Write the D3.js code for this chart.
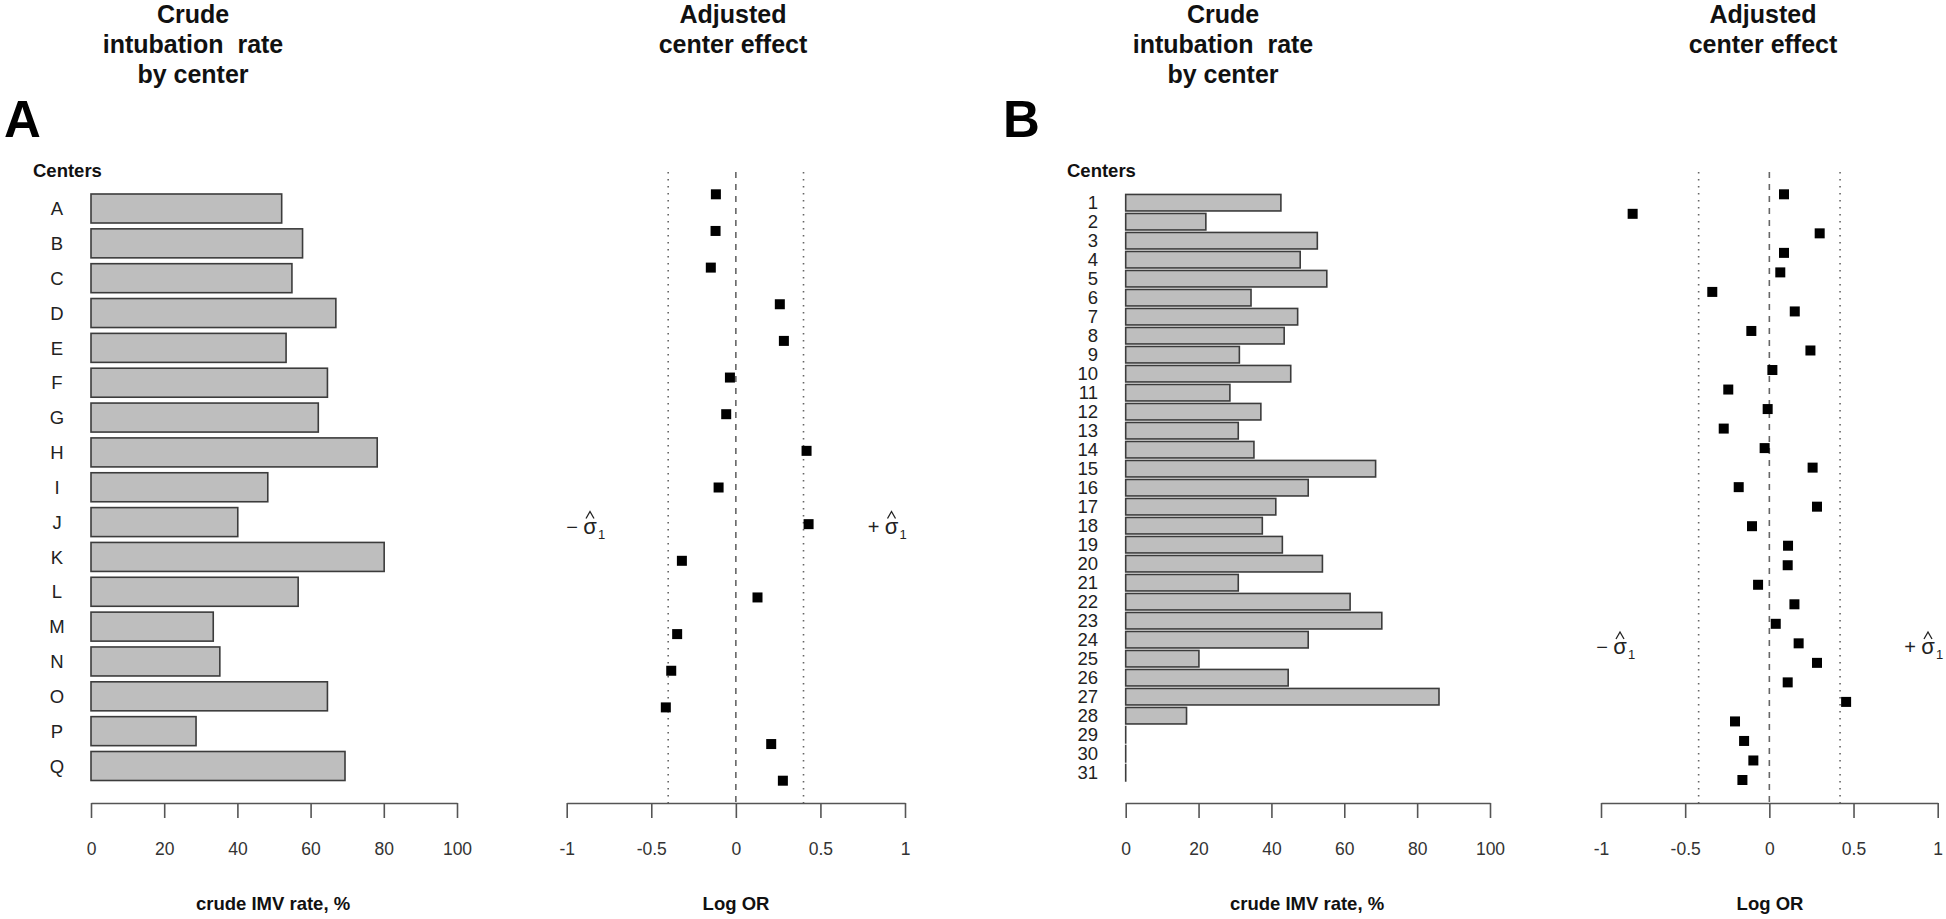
<!DOCTYPE html>
<html>
<head>
<meta charset="utf-8">
<script src="https://cdn.jsdelivr.net/npm/d3@7"></script>
<style>
  html, body { margin: 0; padding: 0; background: #fff; }
  svg { display: block; font-family: "Liberation Sans", Arial, sans-serif; }
</style>
</head>
<body>
<svg id="chart" width="1946" height="919"></svg>
<script>
// ---------------- DATA ----------------
const centersA = ["A","B","C","D","E","F","G","H","I","J","K","L","M","N","O","P","Q"];
const crudeA = [52.1, 57.8, 54.9, 66.9, 53.3, 64.6, 62.1, 78.2, 48.3, 40.1, 80.1, 56.6, 33.4, 35.2, 64.6, 28.7, 69.4];
const logOrA = [-0.118, -0.120, -0.148, 0.260, 0.284, -0.035, -0.057, 0.418, -0.102, 0.430, -0.319, 0.128, -0.347, -0.382, -0.414, 0.209, 0.278];
const sigmaA = 0.40;

const centersB = ["1","2","3","4","5","6","7","8","9","10","11","12","13","14","15","16","17","18","19","20","21","22","23","24","25","26","27","28","29","30","31"];
const crudeB = [42.6, 22.0, 52.6, 47.9, 55.2, 34.4, 47.2, 43.5, 31.2, 45.3, 28.6, 37.1, 30.9, 35.2, 68.6, 50.1, 41.2, 37.5, 43.0, 54.0, 30.9, 61.6, 70.3, 50.1, 20.1, 44.6, 86.0, 16.7, 0, 0, 0];
const logOrB = [0.087, -0.812, 0.299, 0.087, 0.065, -0.339, 0.151, -0.107, 0.244, 0.018, -0.244, -0.010, -0.271, -0.028, 0.257, -0.182, 0.283, -0.103, 0.111, 0.109, -0.067, 0.149, 0.038, 0.174, 0.283, 0.109, 0.456, -0.204, -0.150, -0.095, -0.160];
const sigmaB = 0.42;

const rateTicks = [0, 20, 40, 60, 80, 100];
const rateTickLabels = ["0", "20", "40", "60", "80", "100"];
const logTicks = [-1, -0.5, 0, 0.5, 1];
const logTickLabels = ["-1", "-0.5", "0", "0.5", "1"];

const crudeTitle = ["Crude", "intubation  rate", "by center"];
const adjTitle = ["Adjusted", "center effect"];
const crudeAxisTitle = "crude IMV rate, %";
const logAxisTitle = "Log OR";
const centersLabel = "Centers";

// ---------------- LAYOUT ----------------
const svg = d3.select("#chart");
const axisY = 803;
const lineTop = 172;

const panels = [
  {
    letter: "A", letterX: 4, cats: centersA, crude: crudeA, logor: logOrA, sigma: sigmaA,
    barX: [91, 457], barY: [208.5, 766], barH: 29, labelMode: "middle", labelX: 57,
    ptX: [566.7, 905], ptY: [194.3, 780.7],
    crudeTitleX: 193, adjTitleX: 733, centersX: 33,
    crudeAxisX: 273, logAxisX: 736,
    sigY: 527.5, sigC: [590, 891.5]
  },
  {
    letter: "B", letterX: 1003, cats: centersB, crude: crudeB, logor: logOrB, sigma: sigmaB,
    barX: [1125.7, 1490], barY: [202.7, 772.7], barH: 16.5, labelMode: "end", labelX: 1098,
    ptX: [1601, 1937.7], ptY: [194.3, 780],
    crudeTitleX: 1223, adjTitleX: 1763, centersX: 1067,
    crudeAxisX: 1307, logAxisX: 1770,
    sigY: 648, sigC: [1620, 1928]
  }
];

function titleBlock(x, lines) {
  const t = svg.append("text")
    .attr("text-anchor", "middle")
    .attr("font-weight", "bold")
    .attr("font-size", 25)
    .attr("fill", "#111");
  lines.forEach((ln, i) => {
    t.append("tspan").attr("x", x).attr("y", 23 + i * 30).attr("xml:space", "preserve").text(ln);
  });
}

function sigmaLabel(cx, cy, sign) {
  const g = svg.append("g").attr("fill", "#222");
  g.append("text").attr("x", cx - 18).attr("y", cy + 6).attr("text-anchor", "middle")
    .attr("font-size", 20).text(sign);
  g.append("text").attr("x", cx).attr("y", cy + 6).attr("text-anchor", "middle")
    .attr("font-size", 22).text("σ");
  g.append("text").attr("x", cx + 8).attr("y", cy + 11).attr("text-anchor", "start")
    .attr("font-size", 13).attr("fill", "#222").text("1");
  g.append("path")
    .attr("d", `M${cx - 4},${cy - 9} L${cx},${cy - 16} L${cx + 4},${cy - 9}`)
    .attr("fill", "none").attr("stroke", "#222").attr("stroke-width", 1.3);
}

panels.forEach(p => {
  // titles
  titleBlock(p.crudeTitleX, crudeTitle);
  titleBlock(p.adjTitleX, adjTitle);

  // panel letter
  svg.append("text").attr("x", p.letterX).attr("y", 137)
    .attr("font-size", 51).attr("font-weight", "bold").attr("fill", "#000")
    .text(p.letter);

  // "Centers"
  svg.append("text").attr("x", p.centersX).attr("y", 177)
    .attr("font-size", 18.5).attr("font-weight", "bold").attr("fill", "#111")
    .text(centersLabel);

  // ---------- bar chart ----------
  const x = d3.scaleLinear().domain([0, 100]).range(p.barX);
  const y = d3.scalePoint().domain(p.cats).range(p.barY);

  const gBar = svg.append("g");
  gBar.selectAll("rect").data(p.cats).join("rect")
    .attr("x", x(0))
    .attr("y", d => y(d) - p.barH / 2)
    .attr("width", (d, i) => Math.max(x(p.crude[i]) - x(0), 0.01))
    .attr("height", p.barH)
    .attr("fill", "#bebebe")
    .attr("stroke", "#3c3c3c")
    .attr("stroke-width", 1.6);

  gBar.selectAll("text.cat").data(p.cats).join("text")
    .attr("class", "cat")
    .attr("x", p.labelX)
    .attr("y", d => y(d))
    .attr("dy", "0.36em")
    .attr("text-anchor", p.labelMode)
    .attr("font-size", 18.5)
    .attr("fill", "#222")
    .text(d => d);

  const xAxis = d3.axisBottom(x)
    .tickValues(rateTicks)
    .tickFormat((d, i) => rateTickLabels[i])
    .tickSize(15).tickSizeOuter(0).tickPadding(25);
  const gxa = svg.append("g").attr("transform", `translate(0,${axisY})`).call(xAxis);
  styleAxis(gxa);

  svg.append("text").attr("x", p.crudeAxisX).attr("y", 910)
    .attr("text-anchor", "middle").attr("font-size", 18.5).attr("font-weight", "bold")
    .attr("fill", "#111").text(crudeAxisTitle);

  // ---------- forest / dot chart ----------
  const xl = d3.scaleLinear().domain([-1, 1]).range(p.ptX);
  const yl = d3.scalePoint().domain(p.cats).range(p.ptY);

  const gRef = svg.append("g");
  [-p.sigma, p.sigma].forEach(v => {
    gRef.append("line").attr("x1", xl(v)).attr("x2", xl(v))
      .attr("y1", lineTop).attr("y2", axisY)
      .attr("stroke", "#666").attr("stroke-width", 1.6)
      .attr("stroke-dasharray", "1.6,5.4");
  });
  gRef.append("line").attr("x1", xl(0)).attr("x2", xl(0))
    .attr("y1", lineTop).attr("y2", axisY)
    .attr("stroke", "#666").attr("stroke-width", 1.6)
    .attr("stroke-dasharray", "6,6");

  const sq = 10;
  svg.append("g").selectAll("rect").data(p.cats).join("rect")
    .attr("x", (d, i) => xl(p.logor[i]) - sq / 2)
    .attr("y", d => yl(d) - sq / 2)
    .attr("width", sq).attr("height", sq)
    .attr("fill", "#000");

  const lAxis = d3.axisBottom(xl)
    .tickValues(logTicks)
    .tickFormat((d, i) => logTickLabels[i])
    .tickSize(15).tickSizeOuter(0).tickPadding(25);
  const gla = svg.append("g").attr("transform", `translate(0,${axisY})`).call(lAxis);
  styleAxis(gla);

  svg.append("text").attr("x", p.logAxisX).attr("y", 910)
    .attr("text-anchor", "middle").attr("font-size", 18.5).attr("font-weight", "bold")
    .attr("fill", "#111").text(logAxisTitle);

  sigmaLabel(p.sigC[0], p.sigY, "−");
  sigmaLabel(p.sigC[1], p.sigY, "+");
});

function styleAxis(g) {
  g.select(".domain").attr("stroke", "#555").attr("stroke-width", 1.6);
  g.selectAll(".tick line").attr("stroke", "#555").attr("stroke-width", 1.6);
  g.selectAll(".tick text")
    .attr("font-size", 17.5)
    .attr("fill", "#333")
    .attr("font-family", "Liberation Sans, Arial, sans-serif");
}
</script>
</body>
</html>
